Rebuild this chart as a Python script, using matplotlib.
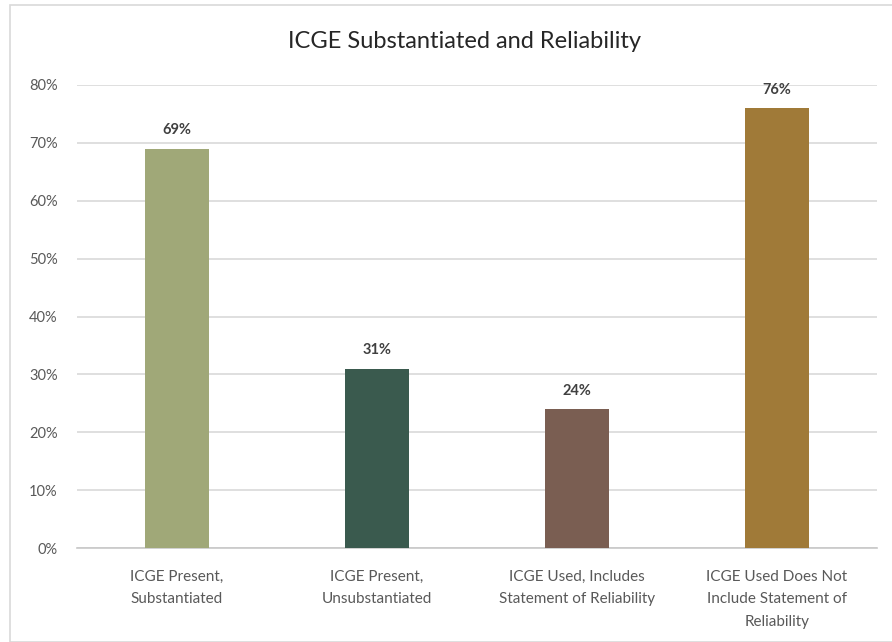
import matplotlib.pyplot as plt
from matplotlib.patches import Rectangle
from matplotlib.ticker import PercentFormatter

plt.rcParams['font.family'] = ['Lato', 'DejaVu Sans']

categories = [
    "ICGE Present,\nSubstantiated",
    "ICGE Present,\nUnsubstantiated",
    "ICGE Used, Includes\nStatement of Reliability",
    "ICGE Used Does Not\nInclude Statement of\nReliability",
]
values = [0.69, 0.31, 0.24, 0.76]
colors = ["#A0A878", "#3A5A4E", "#7A5E52", "#A07A38"]

fig = plt.figure(figsize=(8.92, 6.42), dpi=100)
ax = fig.add_axes([77 / 892, 1 - 548 / 642, 800 / 892, 463 / 642])

# chart area border
fig.patches.append(Rectangle((10 / 892, 0), 1, 1 - 5 / 642, transform=fig.transFigure,
                             fill=False, edgecolor="#D9D9D9", linewidth=1.2))

x = range(len(categories))
bars = ax.bar(x, values, width=0.32, color=colors, zorder=3)

for b, v in zip(bars, values):
    ax.text(b.get_x() + b.get_width() / 2, v + 0.02, f"{v:.0%}",
            ha="center", va="bottom", fontsize=10.5, fontweight="bold", color="#404040")

ax.set_xlim(-0.5, 3.5)
ax.set_ylim(0, 0.8)
ax.set_yticks([i / 10 for i in range(9)])
ax.yaxis.set_major_formatter(PercentFormatter(1.0, decimals=0))
ax.set_xticks(list(x))
ax.set_xticklabels(categories, fontsize=11, color="#595959", linespacing=1.75)
ax.tick_params(axis="y", length=0, pad=14, labelsize=10.5, labelcolor="#595959")
ax.tick_params(axis="x", length=0, pad=16)

ax.grid(axis="y", color="#D9D9D9", linewidth=1.2, zorder=0)
for s in ["top", "right", "left"]:
    ax.spines[s].set_visible(False)
ax.spines["bottom"].set_color("#C8C8C8")
ax.spines["bottom"].set_linewidth(1.2)

fig.text(465 / 892, 1 - 42 / 642, "ICGE Substantiated and Reliability",
         ha="center", va="center", fontsize=17, color="#262626")

fig.savefig("out.png", dpi=100)
